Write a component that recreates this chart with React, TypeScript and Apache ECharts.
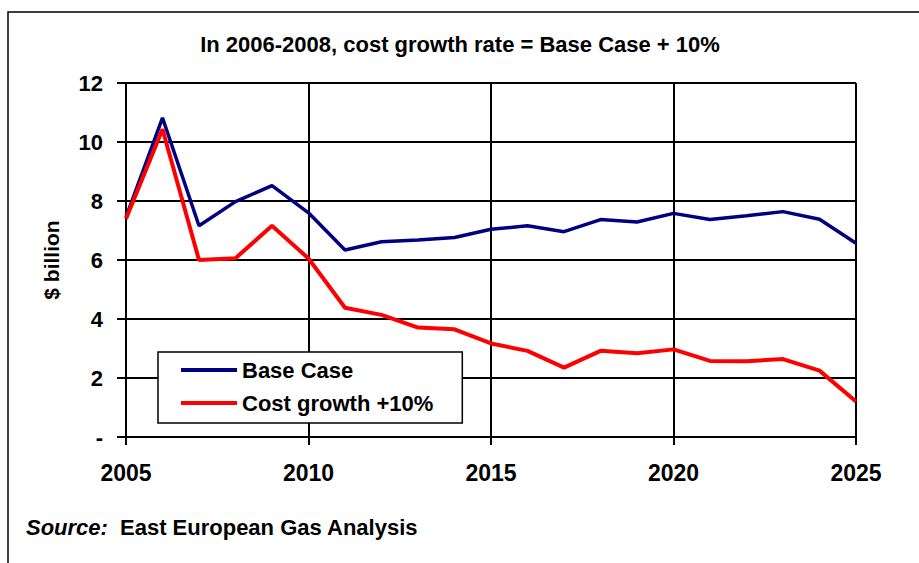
import React, { useEffect, useRef } from "react";
import * as echarts from "echarts";

const years = [2005, 2006, 2007, 2008, 2009, 2010, 2011, 2012, 2013, 2014, 2015, 2016, 2017, 2018, 2019, 2020, 2021, 2022, 2023, 2024, 2025];
const baseCase = [7.45, 10.82, 7.16, 7.98, 8.52, 7.6, 6.34, 6.62, 6.68, 6.76, 7.04, 7.16, 6.96, 7.37, 7.29, 7.58, 7.37, 7.5, 7.64, 7.38, 6.57];
const costGrowth = [7.4, 10.43, 6.0, 6.06, 7.16, 6.05, 4.38, 4.14, 3.71, 3.65, 3.17, 2.92, 2.35, 2.92, 2.84, 2.97, 2.58, 2.57, 2.64, 2.25, 1.2];
const seriesNames = ["Base Case", "Cost growth +10%"];
const titleText = "In 2006-2008, cost growth rate = Base Case + 10%";
const yAxisName = "$ billion";
const sourceLabel = "Source:";
const sourceText = "East European Gas Analysis";

const FONT = "'Liberation Sans', Arial, sans-serif";

export default function App() {
  const ref = useRef<HTMLDivElement>(null);
  useEffect(() => {
    document.body.style.margin = "0";
    const chart = echarts.init(ref.current!, null, { renderer: "svg" });
    const toPairs = (vals: number[]) => years.map((y, i) => [y, vals[i]]);
    chart.setOption({
      animation: false,
      backgroundColor: "#ffffff",
      textStyle: { fontFamily: FONT },
      title: {
        text: titleText,
        left: 460,
        textAlign: "center",
        top: 33,
        padding: 0,
        textStyle: { fontSize: 22, fontWeight: "bold", color: "#000", fontFamily: FONT },
      },
      grid: { left: 126, top: 83, width: 730, height: 354, containLabel: false },
      xAxis: {
        type: "value",
        min: 2005,
        max: 2025,
        interval: 5,
        axisLine: { show: true, lineStyle: { color: "#000", width: 2 } },
        axisTick: { show: true, length: 8, lineStyle: { color: "#000", width: 2 } },
        splitLine: { show: true, lineStyle: { color: "#000", width: 2 } },
        axisLabel: {
          margin: 24,
          fontSize: 23,
          fontWeight: "bold",
          color: "#000",
          fontFamily: FONT,
          formatter: (v: number) => String(v),
        },
      },
      yAxis: {
        type: "value",
        min: 0,
        max: 12,
        interval: 2,
        name: yAxisName,
        nameLocation: "middle",
        nameGap: 64,
        nameTextStyle: { fontSize: 21, fontWeight: "bold", color: "#000", fontFamily: FONT },
        axisLine: { show: true, lineStyle: { color: "#000", width: 2 } },
        axisTick: { show: true, length: 9, lineStyle: { color: "#000", width: 2 } },
        splitLine: { show: true, lineStyle: { color: "#000", width: 2 } },
        axisLabel: {
          margin: 23,
          fontSize: 22,
          fontWeight: "bold",
          color: "#000",
          fontFamily: FONT,
          formatter: (v: number) => (v === 0 ? "-" : String(v)),
        },
      },
      legend: {
        orient: "vertical",
        left: 158,
        top: 352,
        padding: [7, 29, 9, 23],
        backgroundColor: "#fff",
        borderColor: "#000",
        borderWidth: 1.5,
        itemWidth: 56,
        itemHeight: 4,
        itemGap: 11,
        icon: "rect",
        textStyle: { fontSize: 22, fontWeight: "bold", color: "#000", fontFamily: FONT },
        data: seriesNames,
      },
      series: [
        {
          name: seriesNames[0],
          type: "line",
          data: toPairs(baseCase),
          symbol: "none",
          lineStyle: { color: "#000080", width: 3.5 },
          itemStyle: { color: "#000080" },
        },
        {
          name: seriesNames[1],
          type: "line",
          data: toPairs(costGrowth),
          symbol: "none",
          lineStyle: { color: "#ff0000", width: 4 },
          itemStyle: { color: "#ff0000" },
        },
      ],
      graphic: [
        {
          type: "rect",
          shape: { x: 8, y: 12, width: 1000, height: 1000 },
          style: { fill: "none", stroke: "#000", lineWidth: 1.5 },
          silent: true,
        },
        {
          type: "text",
          x: 26,
          y: 527,
          style: {
            text: sourceLabel,
            verticalAlign: "middle",
            fontSize: 22,
            fontWeight: "bold",
            fontStyle: "italic",
            fill: "#000",
            fontFamily: FONT,
          },
        },
        {
          type: "text",
          x: 120,
          y: 527,
          style: {
            text: sourceText,
            verticalAlign: "middle",
            fontSize: 22,
            fontWeight: "bold",
            fill: "#000",
            fontFamily: FONT,
          },
        },
      ],
    });
    return () => chart.dispose();
  }, []);
  return <div ref={ref} style={{ width: 919, height: 563 }} />;
}
